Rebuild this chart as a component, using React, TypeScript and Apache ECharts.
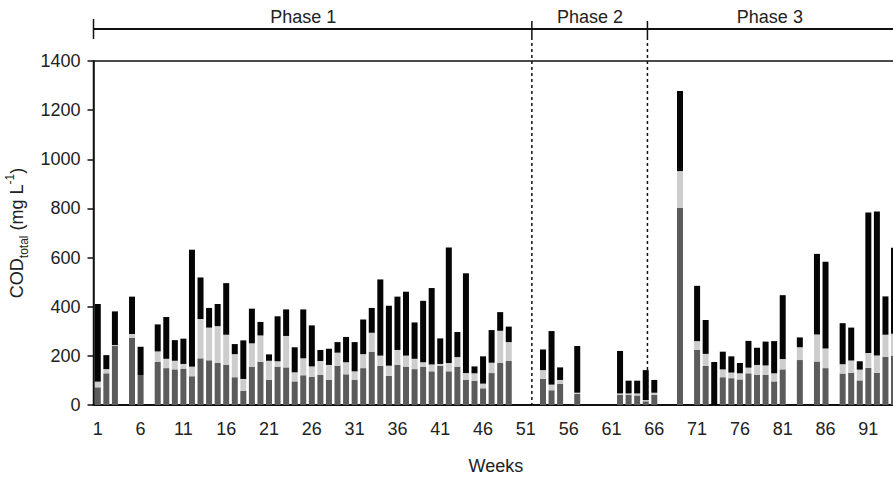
import React, { useEffect, useRef } from "react";
import * as echarts from "echarts";

// Week categories (1..94; the right end of the plot is cut off by the frame)
const weeks: string[] = Array.from({ length: 94 }, (_, i) => String(i + 1));

// COD fractions (mg L-1) per week, stacked: bottom (dark grey), middle (light grey), top (black)
const codDark: (number | null)[] = [
  72, 129, 240, null, 274, 122, null, 175, 150, 145,
  148, 117, 190, 182, 171, 164, 113, 57, 156, 176,
  102, 156, 153, 96, 121, 114, 122, 102, 160, 125,
  103, 150, 217, 159, 119, 164, 156, 146, 156, 137,
  160, 137, 156, 102, 99, 68, 130, 172, 179, null,
  null, null, 106, 60, 87, null, 45, null, null, null,
  null, 42, 42, 39, 15, 42, null, null, 803, null,
  224, 159, 0, 113, 109, 104, 129, 122, 123, 96,
  145, null, 183, null, 177, 150, null, 128, 131, 100,
  151, 131, 196, 200,
];
const codLight: (number | null)[] = [
  23, 17, 4, null, 15, 0, null, 43, 38, 35,
  19, 39, 160, 133, 150, 122, 94, 49, 95, 107,
  78, 22, 128, 37, 69, 43, 57, 61, 53, 49,
  34, 57, 77, 42, 41, 60, 45, 42, 18, 28,
  7, 34, 39, 28, 30, 19, 42, 130, 77, null,
  null, null, 36, 23, 15, null, 5, null, null, null,
  null, 5, 5, 8, 5, 8, null, null, 149, null,
  36, 49, 0, 32, 23, 25, 23, 41, 38, 33,
  42, null, 52, null, 110, 80, null, 38, 50, 44,
  61, 70, 90, 90,
];
const codBlack: (number | null)[] = [
  316, 57, 137, null, 152, 115, null, 110, 170, 84,
  103, 476, 169, 80, 90, 210, 41, 157, 141, 55,
  26, 183, 108, 102, 199, 167, 45, 66, 43, 103,
  119, 141, 101, 310, 244, 217, 260, 148, 250, 311,
  104, 470, 102, 406, 28, 111, 133, 76, 63, null,
  null, null, 84, 218, 51, null, 190, null, null, null,
  null, 173, 52, 52, 122, 52, null, null, 326, null,
  225, 138, 175, 72, 66, 42, 109, 70, 97, 131,
  260, null, 40, null, 328, 353, null, 167, 134, 34,
  571, 587, 156, 350,
];

// Phase annotation (in week units)
const phaseNames = ["Phase 1", "Phase 2", "Phase 3"];
const phaseBoundaries = [0.5, 51.7, 65.2];
const phaseLabelWeeks = [25, 58.5, 79.5];

const FONT = '"Liberation Sans", Arial, Helvetica, sans-serif';

export default function App() {
  const ref = useRef<HTMLDivElement>(null);

  useEffect(() => {
    const el = ref.current!;
    const chart = echarts.init(el, null, { renderer: "svg" });
    const every5 = (i: number) => i % 5 === 0;

    const option: any = {
      animation: false,
      backgroundColor: "#ffffff",
      grid: {
        left: 93.5,
        right: -5.3,
        top: 61,
        bottom: 74,
        containLabel: false,
        outerBoundsMode: "none",
        show: true,
        borderColor: "#111",
        borderWidth: 1.5,
        backgroundColor: "transparent",
      },
      xAxis: [
        {
          type: "category",
          data: weeks,
          name: "Weeks",
          nameLocation: "middle",
          nameGap: 52,
          nameTextStyle: { fontSize: 18, color: "#222", fontFamily: FONT },
          axisLine: { lineStyle: { color: "#111", width: 2 } },
          axisTick: {
            alignWithLabel: true,
            interval: every5,
            length: 7,
            lineStyle: { color: "#111", width: 1.5 },
          },
          axisLabel: {
            interval: every5,
            margin: 15,
            fontSize: 18,
            color: "#222",
            fontFamily: FONT,
          },
          splitLine: { show: false },
        },
        { type: "value", min: 0.5, max: 94.5, show: false },
      ],
      yAxis: {
        type: "value",
        min: 0,
        max: 1400,
        interval: 200,
        name: "{a|COD}{b|total}{a| (mg L}{c|-1}{a|)}",
        nameLocation: "middle",
        nameGap: 58,
        nameTextStyle: {
          color: "#222",
          fontFamily: FONT,
          rich: {
            a: { fontSize: 18, lineHeight: 26, color: "#222", fontFamily: FONT, verticalAlign: "middle" },
            b: { fontSize: 12, lineHeight: 12, color: "#222", fontFamily: FONT, verticalAlign: "bottom" },
            c: { fontSize: 12, lineHeight: 12, color: "#222", fontFamily: FONT, verticalAlign: "top" },
          },
        },
        axisLine: { show: true, lineStyle: { color: "#111", width: 1.5 } },
        axisTick: { show: true, length: 6, lineStyle: { color: "#111", width: 1.5 } },
        axisLabel: {
          margin: 13,
          fontSize: 18,
          color: "#222",
          fontFamily: FONT,
          formatter: (v: number) => String(v),
        },
        splitLine: { show: false },
      },
      series: [
        {
          name: "dark",
          type: "bar",
          stack: "cod",
          data: codDark,
          barWidth: 6,
          itemStyle: { color: "#5b5b5b" },
        },
        {
          name: "light",
          type: "bar",
          stack: "cod",
          data: codLight,
          barWidth: 6,
          itemStyle: { color: "#cdcdcd" },
        },
        {
          name: "black",
          type: "bar",
          stack: "cod",
          data: codBlack,
          barWidth: 6,
          itemStyle: { color: "#050505" },
        },
        {
          name: "helper",
          type: "line",
          xAxisIndex: 1,
          data: [],
          silent: true,
        },
      ],
    };

    chart.setOption(option);

    const px = (v: number) => chart.convertToPixel({ xAxisIndex: 1 }, v) as number;
    const y0 = chart.convertToPixel({ yAxisIndex: 0 }, 0) as number;
    const headerY = 29;
    const elements: any[] = [];
    elements.push({
      type: "line",
      shape: { x1: px(phaseBoundaries[0]), y1: headerY, x2: 900, y2: headerY },
      style: { stroke: "#111", lineWidth: 2 },
    });
    phaseBoundaries.forEach((b, i) => {
      const x = px(b);
      if (i === 0) {
        elements.push({
          type: "line",
          shape: { x1: x, y1: 19, x2: x, y2: 39 },
          style: { stroke: "#111", lineWidth: 1.5 },
        });
      } else {
        elements.push({
          type: "line",
          shape: { x1: x, y1: 21, x2: x, y2: 37 },
          style: { stroke: "#111", lineWidth: 1.5 },
        });
        elements.push({
          type: "line",
          shape: { x1: x, y1: 37, x2: x, y2: y0 },
          style: { stroke: "#111", lineWidth: 1.5, lineDash: [3, 3] },
        });
      }
    });
    phaseNames.forEach((n, i) => {
      elements.push({
        type: "text",
        x: px(phaseLabelWeeks[i]),
        y: 17,
        style: {
          text: n,
          fontSize: 18,
          fontFamily: FONT,
          fill: "#222",
          align: "center",
          verticalAlign: "middle",
        },
      });
    });
    chart.setOption({ graphic: elements });

    return () => chart.dispose();
  }, []);

  return (
    <div
      ref={ref}
      style={{ position: "fixed", left: 0, top: 0, width: 893, height: 479, background: "#fff" }}
    />
  );
}
